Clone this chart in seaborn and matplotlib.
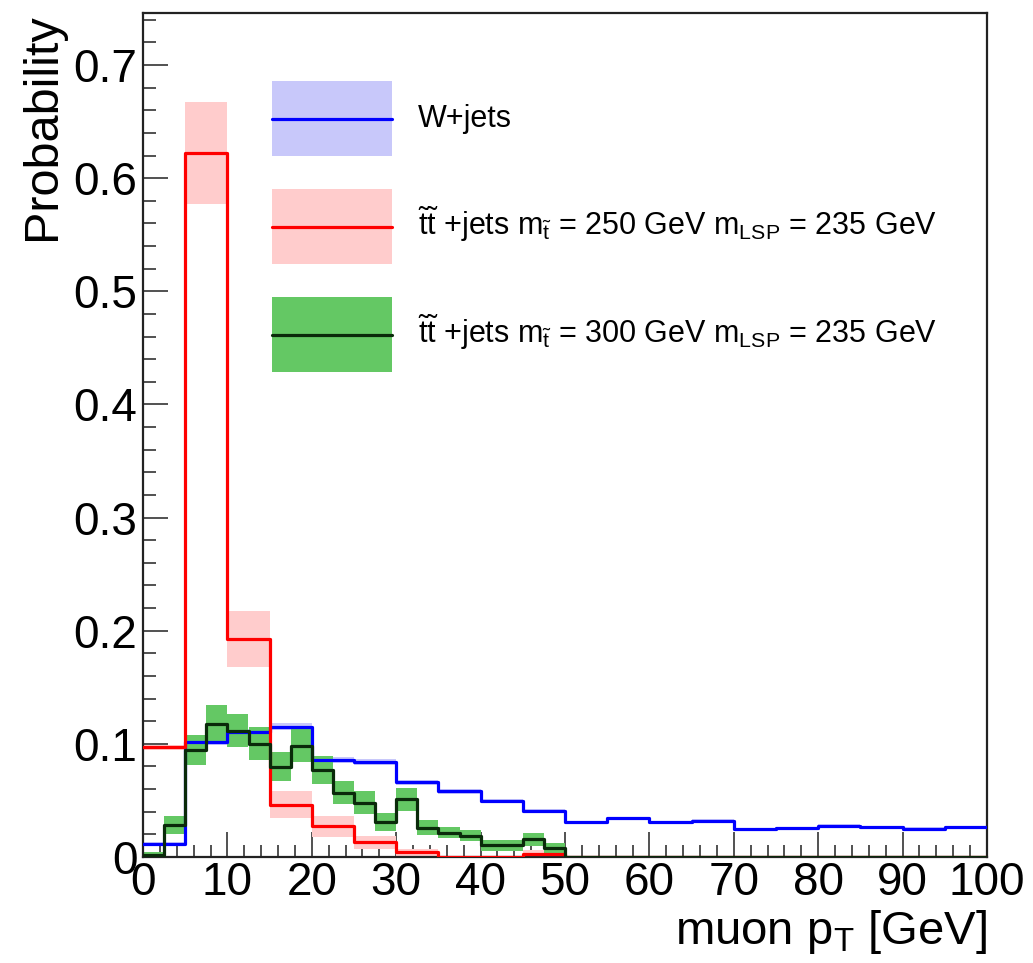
import numpy as np
import pandas as pd
import matplotlib
matplotlib.use("Agg")
import matplotlib.pyplot as plt
from matplotlib.patches import Rectangle
from matplotlib.lines import Line2D
from matplotlib.ticker import MultipleLocator, FixedLocator, FixedFormatter
from matplotlib.legend_handler import HandlerBase
import seaborn as sns

# ---------------- data ----------------
edges_5 = np.arange(0, 100.01, 5.0)      # W+jets and stop 250 binning
edges_25 = np.arange(0, 100.01, 2.5)     # stop 300 binning

wjets_vals = [0.0115, 0.1014, 0.1105, 0.1152, 0.0858, 0.0837, 0.0660, 0.0580,
              0.0497, 0.0408, 0.0307, 0.0342, 0.0307, 0.0318, 0.0244, 0.0253,
              0.0277, 0.0262, 0.0247, 0.0262]
wjets_err = [0.002, 0.0025, 0.0025, 0.003, 0.0025, 0.0025, 0.0025, 0.002,
             0.002, 0.002, 0.0015, 0.0015, 0.0015, 0.0015, 0.0015, 0.0015,
             0.0015, 0.0015, 0.0015, 0.0015]

stop250_vals = [0.097, 0.622, 0.1925, 0.0463, 0.027, 0.013, 0.004, 0.0, 0.0, 0.003,
                0, 0, 0, 0, 0, 0, 0, 0, 0, 0]
stop250_err = [0.002, 0.045, 0.0245, 0.012, 0.0094, 0.006, 0.003, 0.0, 0.0, 0.003,
               0, 0, 0, 0, 0, 0, 0, 0, 0, 0]

stop300_vals = [0.002, 0.028, 0.0946, 0.1176, 0.1117, 0.100, 0.0796, 0.0985,
                0.077, 0.057, 0.048, 0.031, 0.051, 0.026, 0.0214, 0.0188,
                0.0104, 0.0104, 0.0155, 0.0083] + [0.0] * 20
stop300_err = [0.002, 0.0078, 0.0133, 0.0165, 0.0147, 0.0147, 0.0128, 0.0143,
               0.0125, 0.0102, 0.0099, 0.0078, 0.0103, 0.0069, 0.005, 0.005,
               0.005, 0.005, 0.0055, 0.0045] + [0.0] * 20

labels = ["W+jets",
          r"$\tilde{\mathrm{t}}\tilde{\mathrm{t}}$ +jets m$_{\tilde{\mathrm{t}}}$ = 250 GeV m$_{\mathrm{LSP}}$ = 235 GeV",
          r"$\tilde{\mathrm{t}}\tilde{\mathrm{t}}$ +jets m$_{\tilde{\mathrm{t}}}$ = 300 GeV m$_{\mathrm{LSP}}$ = 235 GeV"]
line_colors = ["#0000FF", "#FF0000", "#0A2A0A"]
band_colors = ["#C8C8FA", "#FFCCCC", "#64C864"]

xticks = list(range(0, 101, 10))
xtick_labels = [str(v) for v in xticks]
yticks = [0.0, 0.1, 0.2, 0.3, 0.4, 0.5, 0.6, 0.7]
ytick_labels = ["0", "0.1", "0.2", "0.3", "0.4", "0.5", "0.6", "0.7"]

# ---------------- style ----------------
sns.set_style("ticks")
plt.rcParams["font.family"] = ["Liberation Sans", "DejaVu Sans"]
plt.rcParams["mathtext.fontset"] = "custom"
plt.rcParams["mathtext.rm"] = "Liberation Sans"
plt.rcParams["mathtext.it"] = "Liberation Sans:italic"
plt.rcParams["mathtext.bf"] = "Liberation Sans:bold"
plt.rcParams["text.color"] = "black"
plt.rcParams["axes.labelcolor"] = "black"
plt.rcParams["legend.labelcolor"] = "black"

fig = plt.figure(figsize=(10.33, 9.63), dpi=100)
ax = fig.add_axes([143 / 1033, 1 - 857 / 963, (987 - 143) / 1033, (857 - 13) / 963])

series = [
    (edges_5, wjets_vals, wjets_err),
    (edges_5, stop250_vals, stop250_err),
    (edges_25, stop300_vals, stop300_err),
]

# error bands first
for (edges, vals, errs), bc in zip(series, band_colors):
    vals = np.asarray(vals, dtype=float)
    errs = np.asarray(errs, dtype=float)
    ax.bar(edges[:-1], 2 * errs, bottom=vals - errs, width=np.diff(edges),
           align="edge", color=bc, linewidth=0, zorder=1)

# step lines
for (edges, vals, errs), lc in zip(series, line_colors):
    df = pd.DataFrame({"x": (edges[:-1] + edges[1:]) / 2, "w": vals})
    sns.histplot(data=df, x="x", weights="w", bins=list(edges), element="step",
                 fill=False, color=lc, linewidth=2.3, ax=ax, zorder=3)

ax.set_xlim(0, 100)
ax.set_ylim(0, 0.746)

ax.xaxis.set_major_locator(FixedLocator(xticks))
ax.xaxis.set_major_formatter(FixedFormatter(xtick_labels))
ax.xaxis.set_minor_locator(MultipleLocator(2))
ax.yaxis.set_major_locator(FixedLocator(yticks))
ax.yaxis.set_major_formatter(FixedFormatter(ytick_labels))
ax.yaxis.set_minor_locator(MultipleLocator(0.02))

ax.tick_params(axis="both", which="both", direction="in", top=False, right=False,
               colors="#222222", labelcolor="black")
ax.tick_params(axis="both", which="major", length=18, width=1.1, labelsize=33)
ax.tick_params(axis="both", which="minor", length=9, width=1.1)
ax.tick_params(axis="y", which="major", pad=4)
ax.tick_params(axis="x", which="major", pad=3)

for sp in ax.spines.values():
    sp.set_linewidth(1.6)
    sp.set_color("#222222")
    sp.set_visible(True)

ax.set_xlabel(r"muon p$_{\mathrm{T}}$ [GeV]", fontsize=34, loc="right", color="black")
ax.xaxis.set_label_coords(1.0, -0.060)
ax.set_ylabel("Probability", fontsize=35, loc="top", color="black")
ax.yaxis.set_label_coords(-0.093, 1.0)


class BandLineHandler(HandlerBase):
    """Legend key: shaded box with a line through its middle (ROOT style)."""

    def create_artists(self, legend, orig_handle, xdescent, ydescent,
                       width, height, fontsize, trans):
        bc, lc = orig_handle
        rect = Rectangle((-xdescent, -ydescent), width, height,
                         facecolor=bc, edgecolor="none", transform=trans)
        ymid = -ydescent + height / 2.0
        line = Line2D([-xdescent, -xdescent + width], [ymid, ymid],
                      color=lc, linewidth=2.3, transform=trans)
        return [rect, line]


class Key:
    def __init__(self, bc, lc):
        self.bc, self.lc = bc, lc

    def __iter__(self):
        return iter((self.bc, self.lc))


handles = [Key(bc, lc) for lc, bc in zip(line_colors, band_colors)]

leg = fig.legend(handles, labels, loc="upper left",
                 bbox_to_anchor=(272 / 1033, 1 - 81 / 963),
                 frameon=False, fontsize=22, borderpad=0, borderaxespad=0,
                 handlelength=3.93, handleheight=3.4, handletextpad=0.85,
                 labelspacing=1.08, labelcolor="black",
                 handler_map={Key: BandLineHandler()})

fig.savefig("out.png", dpi=100)
